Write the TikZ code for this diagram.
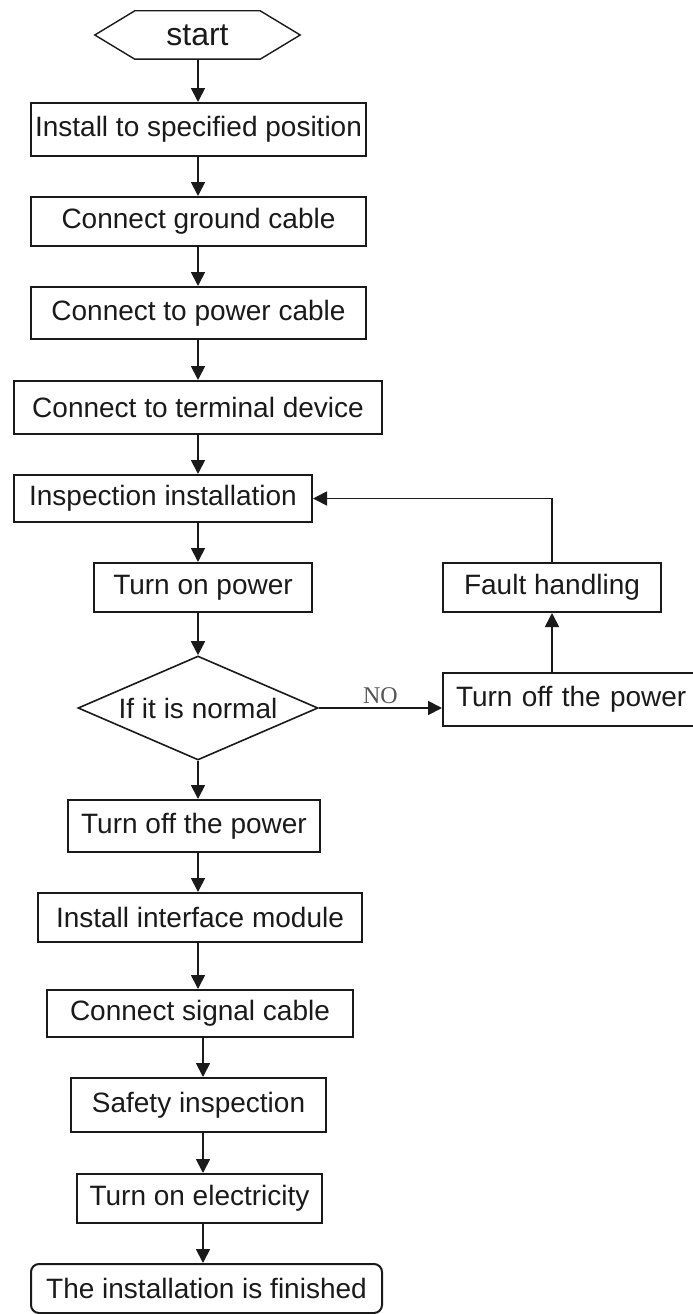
\documentclass[tikz,border=0pt]{standalone}
\usepackage{fontspec}
\setmainfont{Liberation Sans}
\newfontfamily\noserif{Liberation Serif}
\usetikzlibrary{arrows.meta,shapes.geometric}
\definecolor{ink}{HTML}{1A1A1A}
\definecolor{lbl}{HTML}{555555}
\tikzset{
  every picture/.style={x=1pt,y=-1pt},
  boxnode/.style={draw=ink, line width=2pt, rectangle, inner sep=0pt, anchor=center,
    font=\fontsize{28}{32}\selectfont, text=ink},
  decnode/.style={draw=ink, line width=1.6pt, diamond, aspect=2.3, inner sep=0pt,
    minimum width=240pt, minimum height=104pt, font=\fontsize{28}{32}\selectfont, text=ink},
  endnode/.style={boxnode, rounded corners=8pt},
  arr/.style={draw=ink, line width=1.8pt, -{Triangle[width=14pt,length=14pt]}},
}
\begin{document}
\begin{tikzpicture}
\useasboundingbox (0,0) rectangle (693,1314);
\clip (0,0) rectangle (693,1314);
\fill[white] (0,0) rectangle (693,1314);
\coordinate (colA) at (198,0);
\coordinate (colB) at (203,0);

% start hexagon
\node[inner sep=0pt, minimum width=205pt, minimum height=48pt,
      font=\fontsize{32}{36}\selectfont, text=ink] (st) at (197.5,35) {start};
\draw[ink, line width=1.4pt] (st.west) -- ([xshift=40pt]st.north west) -- ([xshift=-40pt]st.north east)
  -- (st.east) -- ([xshift=-40pt]st.south east) -- ([xshift=40pt]st.south west) -- cycle;

\node[boxnode, minimum width=335pt, minimum height=53pt] (b1) at (198.5,129.5) {Install to specified position};
\node[boxnode, minimum width=335pt, minimum height=49pt] (b2) at (198.5,221.5) {Connect ground cable};
\node[boxnode, minimum width=335pt, minimum height=52pt] (b3) at (198.5,313) {Connect to power cable};
\node[boxnode, minimum width=368pt, minimum height=53pt] (b4) at (198,407.5) {Connect to terminal device};
\node[boxnode, minimum width=298pt, minimum height=47pt] (b5) at (163,498.5) {Inspection installation};
\node[boxnode, minimum width=218pt, minimum height=49pt] (b6) at (203,587.5) {Turn on power};
\node[decnode] (d) at (198,708) {If it is normal};
\node[boxnode, minimum width=252pt, minimum height=52pt] (b7) at (194,826) {Turn off the power};
\node[boxnode, minimum width=324pt, minimum height=49pt] (b8) at (200,917.5) {Install interface module};
\node[boxnode, minimum width=306pt, minimum height=47pt] (b9) at (200,1013.5) {Connect signal cable};
\node[boxnode, minimum width=255pt, minimum height=54pt] (b10) at (198.5,1105) {Safety inspection};
\node[boxnode, minimum width=245pt, minimum height=49pt] (b11) at (199.5,1198.5) {Turn on electricity};
\node[endnode, minimum width=351pt, minimum height=49pt] (b12) at (206.5,1288.5) {The installation is finished};

\node[boxnode, minimum width=218pt, minimum height=49pt] (f1) at (552,587.5) {Fault handling};
\node[boxnode, minimum width=257pt, minimum height=53pt, text width=243pt, align=left] (r1) at (571.5,699.5) {\hspace*{6pt}Turn off the power};

% main column
\draw[arr] (st.south -| colA) -- (b1.north -| colA);
\draw[arr] (b1.south -| colA) -- (b2.north -| colA);
\draw[arr] (b2.south -| colA) -- (b3.north -| colA);
\draw[arr] (b3.south -| colA) -- (b4.north -| colA);
\draw[arr] (b4.south -| colA) -- (b5.north -| colA);
\draw[arr] (b5.south -| colA) -- (b6.north -| colA);
\draw[arr] (b6.south -| colA) -- (d.north);
\draw[arr] (d.south) -- (b7.north -| colA);
\draw[arr] (b7.south -| colA) -- (b8.north -| colA);
\draw[arr] (b8.south -| colA) -- (b9.north -| colA);
\draw[arr] (b9.south -| colB) -- (b10.north -| colB);
\draw[arr] (b10.south -| colB) -- (b11.north -| colB);
\draw[arr] (b11.south -| colB) -- (b12.north -| colB);

% fault loop
\draw[arr] (d.east) -- node[above, inner sep=3pt, font=\noserif\fontsize{24}{26}\selectfont, text=lbl] {NO} (d.east -| r1.west);
\draw[arr] (r1.north -| f1) -- (f1.south);
\draw[arr] (f1.north) |- (b5.east);
\end{tikzpicture}
\end{document}
